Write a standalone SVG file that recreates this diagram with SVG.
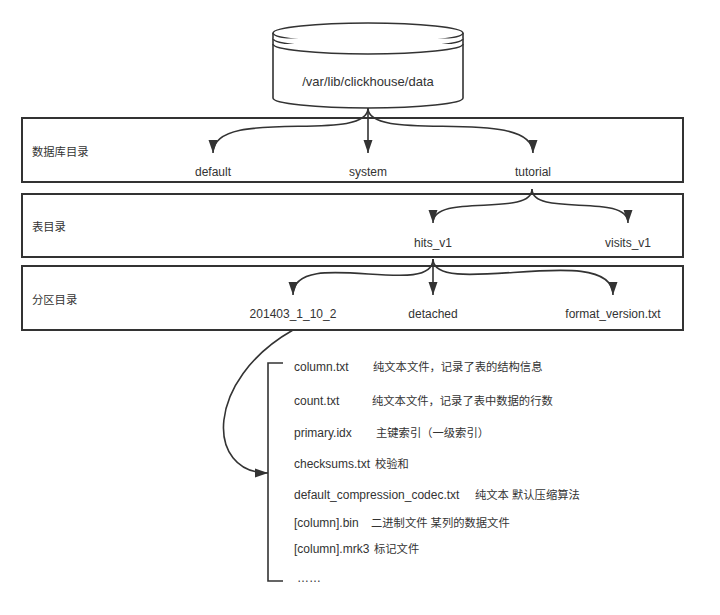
<svg xmlns="http://www.w3.org/2000/svg" width="720" height="615" viewBox="0 0 720 615">
<style>
.box{fill:#fff;stroke:#333;stroke-width:2}
.cyl{fill:#fff;stroke:#333;stroke-width:1.6}
.edge{fill:none;stroke:#333;stroke-width:1.6}
text{font-family:"Liberation Sans","Noto Sans CJK SC",sans-serif;font-size:12px;fill:#333}
.c{text-anchor:middle}
.zh{font-size:11.3px}
</style>
<defs>
<marker id="arr" markerUnits="userSpaceOnUse" markerWidth="14" markerHeight="10" refX="13" refY="5" orient="auto">
<path d="M0,0.5 L13,5 L0,9.5 z" fill="#333"/>
</marker>
</defs>
<rect width="720" height="615" fill="#fff"/>
<g id="db">
<path class="cyl" d="M273,33 L273,98 A95,10 0 0 0 463,98 L463,33"/>
<ellipse class="cyl" cx="368" cy="33" rx="95" ry="10"/>
<path class="cyl" d="M273,38.5 A95,10 0 0 0 463,38.5"/>
<path class="cyl" d="M273,44 A95,10 0 0 0 463,44"/>
<text class="c" x="368" y="86" style="font-size:13px">/var/lib/clickhouse/data</text>
</g>
<g id="level1">
<rect class="box" x="22" y="118" width="661" height="64"/>
<text class="zh" x="32" y="156">数据库目录</text>
<text class="c" x="213" y="176">default</text>
<text class="c" x="368" y="176">system</text>
<text class="c" x="533" y="176">tutorial</text>
</g>
<g id="level2">
<rect class="box" x="22" y="194" width="661" height="63"/>
<text class="zh" x="32" y="231">表目录</text>
<text class="c" x="433" y="247">hits_v1</text>
<text class="c" x="628" y="247">visits_v1</text>
</g>
<g id="level3">
<rect class="box" x="22" y="266" width="661" height="64"/>
<text class="zh" x="32" y="304">分区目录</text>
<text class="c" x="293" y="318">201403_1_10_2</text>
<text class="c" x="433" y="318">detached</text>
<text class="c" x="613" y="318">format_version.txt</text>
</g>
<g id="files">
<path class="edge" d="M283,363 L268,363 L268,581 L283,581"/>
<text x="294" y="371">column.txt<tspan class="zh" x="373">纯文本文件，记录了表的结构信息</tspan></text>
<text x="294" y="405">count.txt<tspan class="zh" x="372">纯文本文件，记录了表中数据的行数</tspan></text>
<text x="294" y="437">primary.idx<tspan class="zh" x="376">主键索引（一级索引）</tspan></text>
<text x="294" y="468">checksums.txt<tspan class="zh" x="375">校验和</tspan></text>
<text x="294" y="499">default_compression_codec.txt<tspan class="zh" x="475">纯文本 默认压缩算法</tspan></text>
<text x="294" y="527">[column].bin<tspan class="zh" x="371">二进制文件 某列的数据文件</tspan></text>
<text x="294" y="553">[column].mrk3<tspan class="zh" x="374">标记文件</tspan></text>
<text x="297" y="582">……</text>
</g>
<g id="connectors">
<path class="edge" marker-end="url(#arr)" d="M368,108 C368,145 213,105 213,153"/>
<path class="edge" marker-end="url(#arr)" d="M368,108 L368,153"/>
<path class="edge" marker-end="url(#arr)" d="M368,108 C368,145 533,105 533,153"/>
<path class="edge" marker-end="url(#arr)" d="M532,189 C532,218 433,192 433,223"/>
<path class="edge" marker-end="url(#arr)" d="M532,189 C532,218 628,192 628,223"/>
<path class="edge" marker-end="url(#arr)" d="M433,259 C433,300 293,245 293,295"/>
<path class="edge" marker-end="url(#arr)" d="M433,259 L433,295"/>
<path class="edge" marker-end="url(#arr)" d="M433,259 C433,300 613,240 613,295"/>
<path class="edge" marker-end="url(#arr)" d="M293,330 C205,380 205,473 268,473"/>
</g>
</svg>
